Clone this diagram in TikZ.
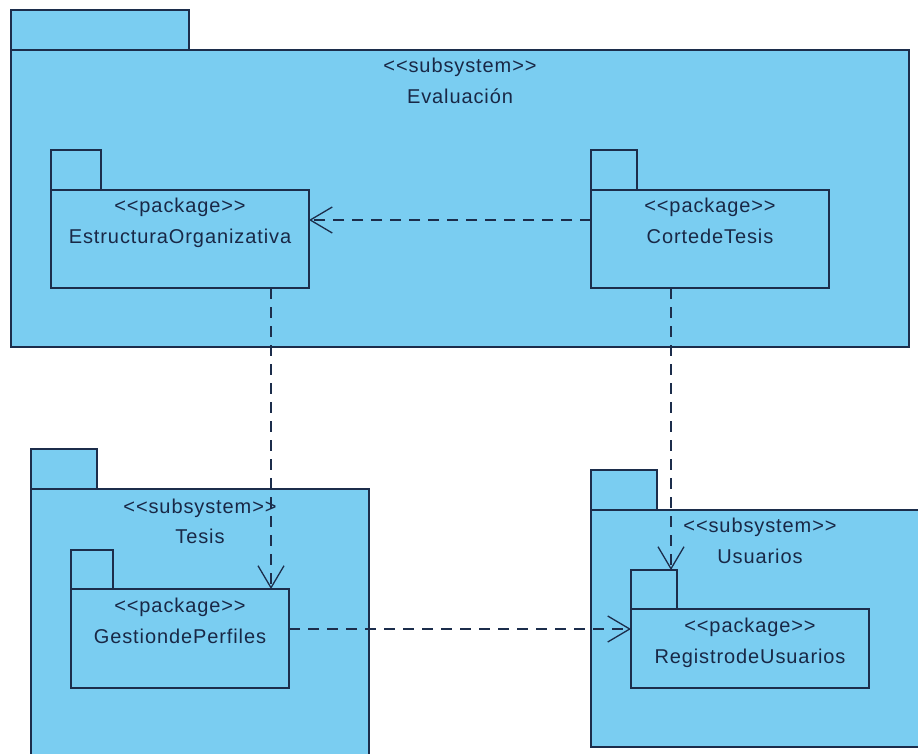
\documentclass[tikz,border=0pt]{standalone}
\usepackage{fontspec}
\setmainfont{Liberation Sans}
\newfontfamily\lblfont[LetterSpace=4.5]{Liberation Sans}
\usetikzlibrary{arrows.meta,calc}
\definecolor{pkgfill}{RGB}{122,205,241}
\definecolor{pkgline}{RGB}{28,45,75}
\definecolor{pkgtext}{RGB}{25,40,70}
\tikzset{
  box/.style={draw=pkgline, fill=pkgfill, line width=1.6pt, rectangle, inner sep=0pt, outer sep=0pt, anchor=north west},
  lbl/.style={text=pkgtext, font=\lblfont\fontsize{20}{24}\selectfont, inner sep=0pt, anchor=base},
  dep/.style={draw=pkgline, line width=1.3pt, dash pattern=on 11pt off 8pt, -{Straight Barb[length=22pt,width=26pt]}}
}
\begin{document}
\begin{tikzpicture}[x=1pt,y=-1pt]
\useasboundingbox (0,0) rectangle (918,753);
\clip (0,0) rectangle (918,753);
% Evaluacion subsystem
\node[box, minimum width=178pt, minimum height=40pt] (evaltab) at (11,10) {};
\node[box, minimum width=898pt, minimum height=297pt] (evalb) at (11,50) {};
\node[lbl] (evals) at (460,72) {<{}<subsystem>{}>};
\node[lbl] (evaln) at (460,103) {Evaluación};
% EstructuraOrganizativa
\node[box, minimum width=50pt, minimum height=40pt] (estrtab) at (51,150) {};
\node[box, minimum width=258pt, minimum height=98pt] (estrb) at (51,190) {};
\node[lbl] (estrs) at (180,212) {<{}<package>{}>};
\node[lbl] (estrn) at (180,243) {EstructuraOrganizativa};
% CortedeTesis
\node[box, minimum width=46pt, minimum height=40pt] (cortetab) at (591,150) {};
\node[box, minimum width=238pt, minimum height=98pt] (corteb) at (591,190) {};
\node[lbl] (cortes) at (710,212) {<{}<package>{}>};
\node[lbl] (corten) at (710,243) {CortedeTesis};
% Tesis subsystem
\node[box, minimum width=66pt, minimum height=40pt] (tesistab) at (31,449) {};
\node[box, minimum width=338pt, minimum height=300pt] (tesisb) at (31,489) {};
\node[lbl] (tesiss) at (200,513) {<{}<subsystem>{}>};
\node[lbl] (tesisn) at (200,543) {Tesis};
% GestiondePerfiles
\node[box, minimum width=42pt, minimum height=39pt] (gesttab) at (71,550) {};
\node[box, minimum width=218pt, minimum height=99pt] (gestb) at (71,589) {};
\node[lbl] (gests) at (180,612) {<{}<package>{}>};
\node[lbl] (gestn) at (180,643) {GestiondePerfiles};
% Usuarios subsystem
\node[box, minimum width=66pt, minimum height=40pt] (usutab) at (591,470) {};
\node[box, minimum width=340pt, minimum height=237pt] (usub) at (591,510) {};
\node[lbl] (usus) at (760,532) {<{}<subsystem>{}>};
\node[lbl] (usun) at (760,563) {Usuarios};
% RegistrodeUsuarios
\node[box, minimum width=46pt, minimum height=39pt] (regtab) at (631,570) {};
\node[box, minimum width=238pt, minimum height=79pt] (regb) at (631,609) {};
\node[lbl] (regs) at (750,632) {<{}<package>{}>};
\node[lbl] (regn) at (750,663) {RegistrodeUsuarios};
% dependencies
\draw[dep] ($(corteb.north west)+(0,30)$) -- ($(estrb.north east)+(0,30)$);
\draw[dep] ($(estrb.south west)+(220,0)$) -- ($(gestb.north west)+(200,0)$);
\draw[dep] ($(corteb.south west)+(80,0)$) -- ($(regtab.north west)+(40,0)$);
\draw[dep] ($(gestb.north east)+(0,40)$) -- ($(regb.north west)+(0,20)$);
\end{tikzpicture}
\end{document}
